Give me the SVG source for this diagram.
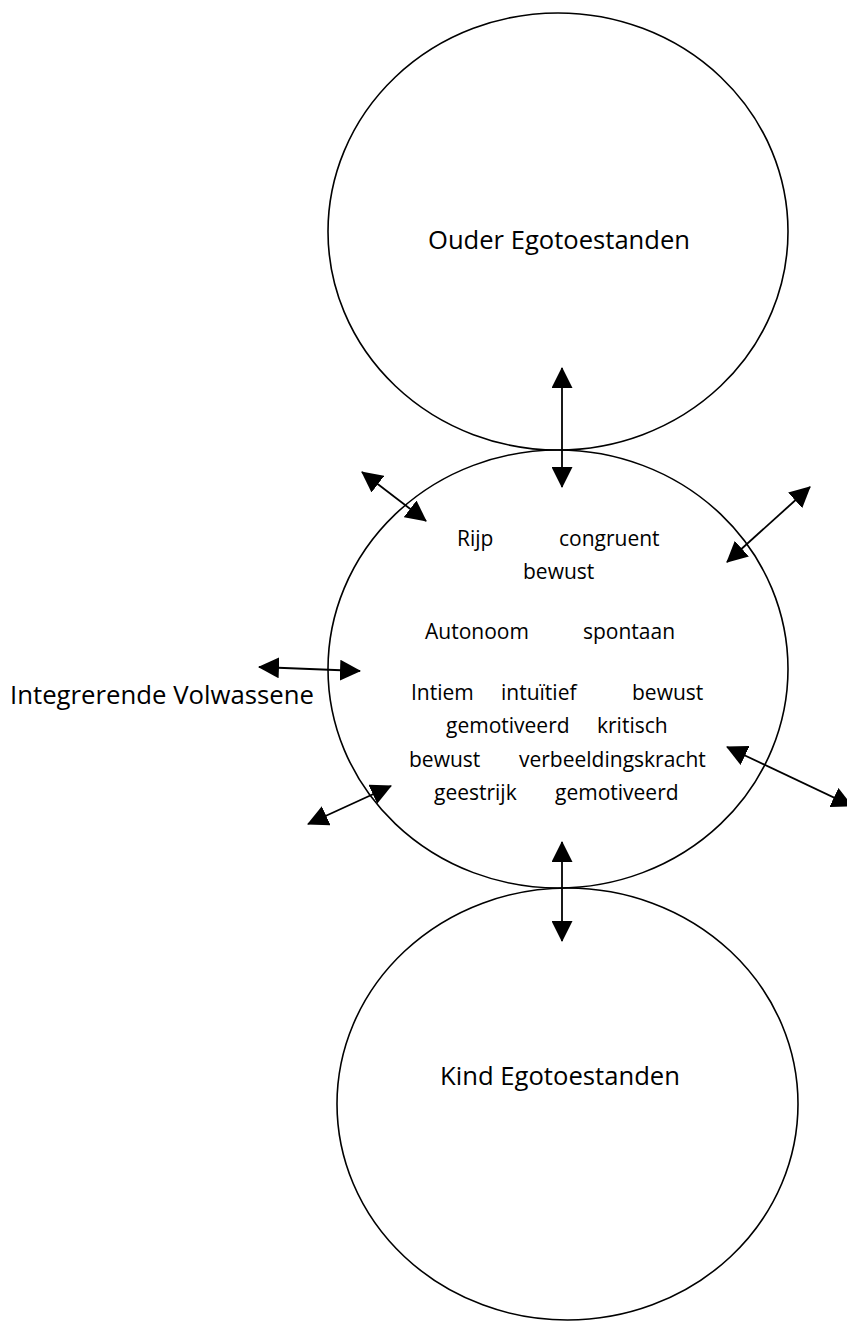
<svg xmlns="http://www.w3.org/2000/svg" width="847" height="1322" viewBox="0 0 847 1322">
<style>
.node ellipse{fill:none;stroke:#000;stroke-width:1.6}
.lbl{font-family:"Open Sans","Noto Sans",sans-serif;font-size:25px;fill:#000}
.in{font-family:"Open Sans","Noto Sans",sans-serif;font-size:21px;fill:#000}
.conn line{stroke:#000;stroke-width:1.8;marker-start:url(#ah);marker-end:url(#ah)}
</style>
<defs>
<marker id="ah" markerUnits="userSpaceOnUse" markerWidth="21" markerHeight="21" viewBox="0 0 21 21" refX="20" refY="10.5" orient="auto-start-reverse">
<path d="M0,0 L21,10.5 L0,21 z" fill="#000"/>
</marker>
</defs>
<rect width="847" height="1322" fill="#fff"/>
<g id="ouder" class="node">
<ellipse cx="558" cy="231.5" rx="230" ry="218.5"/>
<text class="lbl" x="559" y="249" text-anchor="middle" textLength="262" lengthAdjust="spacingAndGlyphs">Ouder Egotoestanden</text>
</g>
<g id="volwassene" class="node">
<ellipse cx="558" cy="669" rx="230" ry="219"/>
<text class="in" y="546"><tspan x="457">Rijp</tspan><tspan x="559">congruent</tspan></text>
<text class="in" y="579"><tspan x="523">bewust</tspan></text>
<text class="in" y="639"><tspan x="425">Autonoom</tspan><tspan x="583">spontaan</tspan></text>
<text class="in" y="700"><tspan x="411">Intiem</tspan><tspan x="501">intuïtief</tspan><tspan x="632">bewust</tspan></text>
<text class="in" y="733"><tspan x="446">gemotiveerd</tspan><tspan x="597">kritisch</tspan></text>
<text class="in" y="767"><tspan x="409">bewust</tspan><tspan x="519">verbeeldingskracht</tspan></text>
<text class="in" y="800"><tspan x="434">geestrijk</tspan><tspan x="555">gemotiveerd</tspan></text>
</g>
<g id="kind" class="node">
<ellipse cx="567.5" cy="1104" rx="230.5" ry="216"/>
<text class="lbl" x="560" y="1085" text-anchor="middle" textLength="240" lengthAdjust="spacingAndGlyphs">Kind Egotoestanden</text>
</g>
<g id="integrerende-label">
<text class="lbl" x="10" y="704" textLength="304" lengthAdjust="spacingAndGlyphs">Integrerende Volwassene</text>
</g>
<g id="connectors" class="conn">
<line x1="562" y1="368" x2="562" y2="487"/>
<line x1="562" y1="842" x2="562" y2="941"/>
<line x1="362" y1="472" x2="426" y2="521"/>
<line x1="810" y1="487" x2="727" y2="562"/>
<line x1="259" y1="667" x2="360" y2="671"/>
<line x1="308" y1="824" x2="391" y2="786"/>
<line x1="727" y1="747" x2="852" y2="806"/>
</g>
</svg>
